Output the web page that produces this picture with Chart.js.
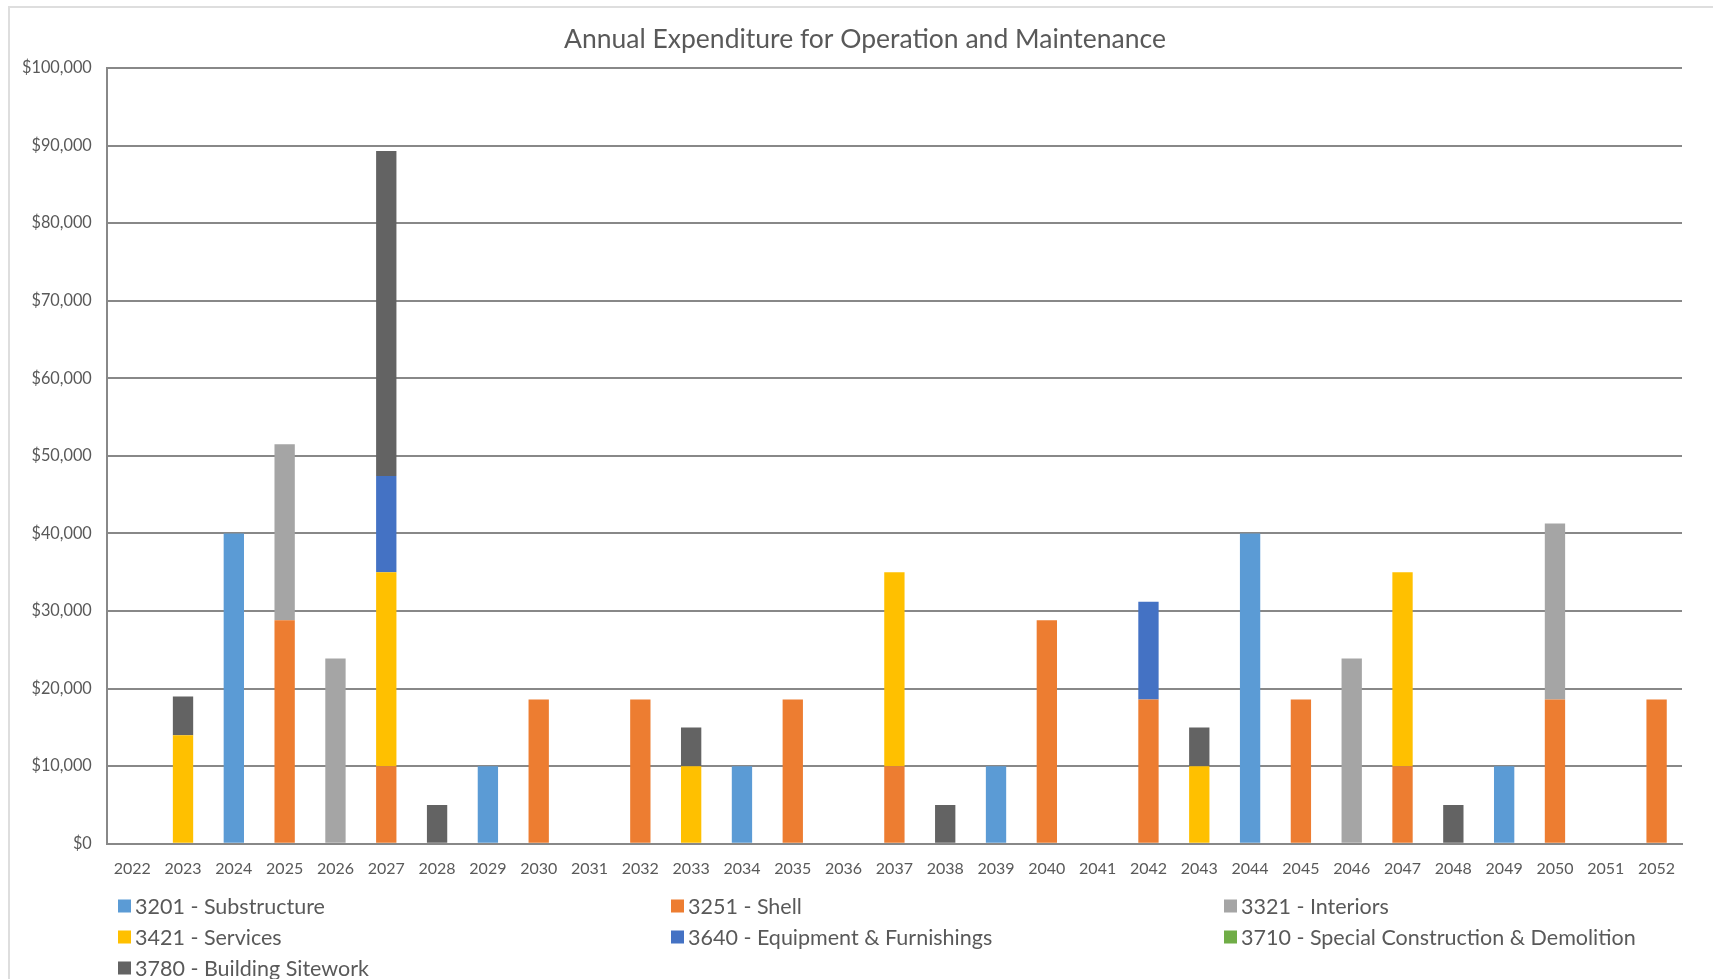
<!DOCTYPE html>
<html>
<head>
<meta charset="utf-8">
<script src="https://cdn.jsdelivr.net/npm/chart.js@4.4.1/dist/chart.umd.min.js"></script>
<style>
  html, body { margin: 0; padding: 0; background: #fff; overflow: hidden; }
  #frame { position: absolute; left: 8px; top: 6px; width: 1800px; height: 1100px; border: 2px solid #dedede; }
  #wrap { position: absolute; left: 0; top: 0; width: 1713px; height: 979px; }
</style>
</head>
<body>
<div id="frame"></div>
<div id="wrap"><canvas id="chart"></canvas></div>
<script>
// Years on the x axis
const years = ['2022','2023','2024','2025','2026','2027','2028','2029','2030','2031',
  '2032','2033','2034','2035','2036','2037','2038','2039','2040','2041',
  '2042','2043','2044','2045','2046','2047','2048','2049','2050','2051','2052'];

// Expenditure per category
const substructure = [null,null,40000,null,null,null,null,10000,null,null,null,null,10000,null,null,null,null,10000,null,null,null,null,40000,null,null,null,null,10000,null,null,null];
const shell        = [null,null,null,28800,null,10000,null,null,18600,null,18600,null,null,18600,null,10000,null,null,28800,null,18600,null,null,18600,null,10000,null,null,18600,null,18600];
const interiors    = [null,null,null,22700,23900,null,null,null,null,null,null,null,null,null,null,null,null,null,null,null,null,null,null,null,23900,null,null,null,22700,null,null];
const services     = [null,14000,null,null,null,25000,null,null,null,null,null,10000,null,null,null,25000,null,null,null,null,null,10000,null,null,null,25000,null,null,null,null,null];
const equipment    = [null,null,null,null,null,12400,null,null,null,null,null,null,null,null,null,null,null,null,null,null,12600,null,null,null,null,null,null,null,null,null,null];
const special      = [null,null,null,null,null,null,null,null,null,null,null,null,null,null,null,null,null,null,null,null,null,null,null,null,null,null,null,null,null,null,null];
const sitework     = [null,5000,null,null,null,41900,5000,null,null,null,null,5000,null,null,null,null,5000,null,null,null,null,5000,null,null,null,null,5000,null,null,null,null];

const seriesNames = ['3201 - Substructure','3251 - Shell','3321 - Interiors','3421 - Services',
  '3640 - Equipment & Furnishings','3710 - Special Construction & Demolition','3780 - Building Sitework'];
const seriesColors = ['#5b9bd5','#ed7d31','#a5a5a5','#ffc000','#4472c4','#70ad47','#636363'];
const seriesData = [substructure, shell, interiors, services, equipment, special, sitework];

const yTicks = [0,10000,20000,30000,40000,50000,60000,70000,80000,90000,100000];

const chartTitle = 'Annual Expenditure for Operation and Maintenance';

const FONT = 'Lato, "Open Sans", sans-serif';
const TEXT = '#595959';
const GRID = '#888888';

// title centred on the whole frame, and legend in three fixed columns under the chart
const frameText = {
  id: 'frameText',
  afterDraw(chart) {
    const ctx = chart.ctx;
    ctx.save();
    ctx.fillStyle = TEXT;
    ctx.font = '26.5px ' + FONT;
    ctx.textAlign = 'center';
    ctx.textBaseline = 'middle';
    ctx.fillText(chartTitle, 865, 39);

    ctx.font = '21.5px ' + FONT;
    ctx.textAlign = 'left';
    chart.data.datasets.forEach((ds, i) => {
      const col = i % 3, row = Math.floor(i / 3);
      const x = 118 + col * 553;
      const y = 906 + row * 31;
      ctx.fillStyle = ds.backgroundColor;
      ctx.fillRect(x, y - 6.5, 13, 13);
      ctx.fillStyle = TEXT;
      ctx.fillText(ds.label, x + 17, y + 1);
    });
    ctx.restore();
  }
};

new Chart(document.getElementById('chart'), {
  type: 'bar',
  data: {
    labels: years,
    datasets: seriesNames.map((name, i) => ({
      label: name,
      data: seriesData[i],
      backgroundColor: seriesColors[i],
      borderWidth: 0,
      categoryPercentage: 1,
      barPercentage: 0.4
    }))
  },
  options: {
    responsive: true,
    maintainAspectRatio: false,
    animation: false,
    layout: { padding: { left: 7, right: 31, top: 68, bottom: 86 } },
    plugins: {
      legend: { display: false },
      tooltip: { enabled: false },
      title: { display: false }
    },
    scales: {
      x: {
        stacked: true,
        grid: { display: false, drawTicks: false },
        border: { display: true, color: GRID, width: 2 },
        ticks: { color: TEXT, font: { family: FONT, size: 16 }, padding: 15, maxRotation: 0, autoSkip: false }
      },
      y: {
        stacked: true,
        min: 0,
        max: 100000,
        afterBuildTicks(axis) { axis.ticks = yTicks.map(v => ({ value: v })); },
        grid: { color: GRID, lineWidth: 2, drawTicks: false },
        border: { display: true, color: GRID, width: 2 },
        ticks: {
          color: TEXT,
          font: { family: FONT, size: 16.3 },
          padding: 15,
          callback: v => '$' + v.toLocaleString('en-US')
        }
      }
    }
  },
  plugins: [frameText]
});
</script>
</body>
</html>
